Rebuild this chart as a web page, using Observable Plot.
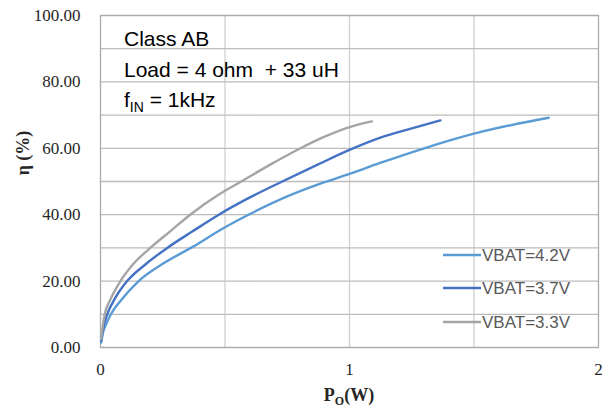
<!DOCTYPE html>
<html>
<head>
<meta charset="utf-8">
<script src="https://cdn.jsdelivr.net/npm/d3@7"></script>
<script src="https://cdn.jsdelivr.net/npm/@observablehq/plot@0.6"></script>
<style>
  html, body { margin: 0; padding: 0; background: #fff; }
  #chart { position: relative; width: 604px; height: 408px; }
</style>
</head>
<body>
<div id="chart"></div>
<script>
// ---- data ----
const seriesNames = ["VBAT=4.2V", "VBAT=3.7V", "VBAT=3.3V"];
const seriesColors = ["#5b9bd5", "#4472c4", "#a5a5a5"];

const po_42 = [0.003, 0.01, 0.02, 0.04, 0.08, 0.15, 0.25, 0.37, 0.5, 0.6, 0.75, 0.9, 1.0, 1.12, 1.3, 1.5, 1.65, 1.8];
const eta_42 = [1.5, 4.5, 6.5, 9.8, 14, 19.8, 25.2, 30.3, 36.2, 40.2, 45.5, 49.8, 52.3, 55.5, 60, 64.4, 67, 69.2];

const po_37 = [0.003, 0.01, 0.027, 0.06, 0.107, 0.18, 0.268, 0.37, 0.475, 0.6, 0.73, 0.87, 1.0, 1.124, 1.25, 1.365];
const eta_37 = [2, 5.5, 10, 15, 20, 25, 30, 35, 40, 45.2, 50, 55, 59.5, 63.2, 66, 68.4];

const po_33 = [0.003, 0.01, 0.017, 0.04, 0.08, 0.13, 0.2, 0.28, 0.36, 0.48, 0.565, 0.68, 0.803, 0.9, 1.0, 1.09];
const eta_33 = [2.5, 7, 10, 14.5, 20, 25, 30, 35, 40, 46.3, 50, 55, 60, 63.5, 66.4, 68.1];

const xTicks = [0, 1, 2];
const yTicks = [0, 20, 40, 60, 80, 100];
const xGrid = [0, 0.5, 1, 1.5, 2];
const yGrid = [0, 10, 20, 30, 40, 50, 60, 70, 80, 90, 100];

// ---- build tables ----
const seriesPo = [po_42, po_37, po_33];
const seriesEta = [eta_42, eta_37, eta_33];
const rows = [];
seriesNames.forEach((name, i) => {
  seriesPo[i].forEach((x, j) => rows.push({series: name, po: x, eta: seriesEta[i][j]}));
});

const X0 = xGrid[0], X1 = xGrid[xGrid.length - 1];
const Y0 = yGrid[0], Y1 = yGrid[yGrid.length - 1];

// gridlines as two-point paths (vertical and horizontal)
const vGrid = [], hGrid = [], border = [];
xGrid.forEach(v => {
  const t = (v === X0 || v === X1) ? border : vGrid;
  t.push({k: "v" + v, x: v, y: Y0}, {k: "v" + v, x: v, y: Y1});
});
yGrid.forEach(v => {
  const t = (v === Y0 || v === Y1) ? border : hGrid;
  t.push({k: "h" + v, x: X0, y: v}, {k: "h" + v, x: X1, y: v});
});

const W = 604, H = 408;
const mL = 100, mR = 6, mT = 15, mB = 61;

const plot = Plot.plot({
  width: W,
  height: H,
  marginLeft: mL,
  marginRight: mR,
  marginTop: mT,
  marginBottom: mB,
  x: {domain: [X0, X1], axis: null},
  y: {domain: [Y0, Y1], axis: null},
  marks: [
    Plot.line(vGrid, {x: "x", y: "y", z: "k", stroke: "#d0d0d0", strokeWidth: 1.3}),
    Plot.line(hGrid, {x: "x", y: "y", z: "k", stroke: "#bcbcbc", strokeWidth: 1.3}),
    Plot.line(border, {x: "x", y: "y", z: "k", stroke: "#acacac", strokeWidth: 1.3}),
    Plot.text(yTicks, {x: () => X0, y: d => d, text: d => d3.format(".2f")(d), dx: -20, textAnchor: "end", fontSize: 17, fontFamily: "Liberation Serif", fill: "#262626"}),
    Plot.text(xTicks, {x: d => d, y: () => Y0, text: d => String(d), dy: 22, fontSize: 17, fontFamily: "Liberation Serif", fill: "#262626"}),
    Plot.line(rows, {x: "po", y: "eta", z: "series", stroke: d => seriesColors[seriesNames.indexOf(d.series)], strokeWidth: 2.4, curve: "monotone-x"})
  ]
});

document.getElementById("chart").appendChild(plot);

const svg = d3.select(plot);

// axis titles
svg.append("text")
  .attr("transform", "translate(29,153) rotate(-90)")
  .attr("text-anchor", "middle")
  .attr("font-family", "Liberation Serif")
  .attr("font-weight", "bold")
  .attr("font-size", 18)
  .attr("fill", "#262626")
  .text("η (%)");

const xl = svg.append("text")
  .attr("x", 349)
  .attr("y", 401)
  .attr("text-anchor", "middle")
  .attr("font-family", "Liberation Serif")
  .attr("font-weight", "bold")
  .attr("font-size", 18)
  .attr("fill", "#262626");
xl.append("tspan").text("P");
xl.append("tspan").attr("font-size", 12).attr("dy", 4).text("O");
xl.append("tspan").attr("dy", -4).text("(W)");

// annotation block
const ann = svg.append("g")
  .attr("font-family", "Liberation Sans")
  .attr("font-size", 21)
  .attr("fill", "#000")
  .attr("text-anchor", "start");
ann.append("text").attr("x", 124).attr("y", 46).text("Class AB");
ann.append("text").attr("x", 124).attr("y", 77).text("Load = 4 ohm\u00a0 + 33 uH");
const f = ann.append("text").attr("x", 124).attr("y", 107);
f.append("tspan").text("f");
f.append("tspan").attr("font-size", 14).attr("dy", 5).text("IN");
f.append("tspan").attr("dy", -5).text(" = 1kHz");

// legend
const legY = [255, 288, 322];
const leg = svg.append("g").attr("text-anchor", "start");
seriesNames.forEach((name, i) => {
  leg.append("line")
    .attr("x1", 443).attr("x2", 481)
    .attr("y1", legY[i]).attr("y2", legY[i])
    .attr("stroke", seriesColors[i]).attr("stroke-width", 2.6);
  leg.append("text")
    .attr("x", 482).attr("y", legY[i]).attr("dy", "0.36em")
    .attr("font-family", "Liberation Sans")
    .attr("font-size", 17)
    .attr("fill", "#595959")
    .text(name);
});
</script>
</body>
</html>
